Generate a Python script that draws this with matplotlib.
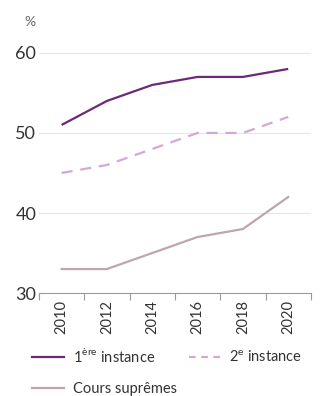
import matplotlib
matplotlib.use('Agg')
import matplotlib.pyplot as plt
from matplotlib.lines import Line2D

plt.rcParams['font.family'] = ['Lato', 'DejaVu Sans']
plt.rcParams['mathtext.fontset'] = 'custom'
plt.rcParams['mathtext.rm'] = 'Lato'

years = ['2010', '2012', '2014', '2016', '2018', '2020']
premiere = [51, 54, 56, 57, 57, 58]
deuxieme = [45, 46, 48, 50, 50, 52]
supremes = [33, 33, 35, 37, 38, 42]

c1 = '#6b2a78'
c2 = '#d5a8d0'
c3 = '#bea6aa'
text_col = '#333333'
axis_col = '#9a9a9a'

fig = plt.figure(figsize=(3.3, 3.96), dpi=100)
ax = fig.add_axes([0.118, 0.26, 0.824, 0.667])

x = list(range(len(years)))
ax.plot(x, premiere, color=c1, lw=1.6, solid_capstyle='butt')
ax.plot(x, deuxieme, color=c2, lw=1.6, dashes=(5, 3.5))
ax.plot(x, supremes, color=c3, lw=1.6)

ax.set_xlim(-0.5, 5.5)
ax.set_ylim(30, 63)
ax.set_yticks([30, 40, 50, 60])
ax.set_yticklabels(['30', '40', '50', '60'], fontsize=13, color=text_col)
ax.tick_params(axis='y', length=0, pad=2)
for y in [40, 50, 60]:
    ax.axhline(y, color='#e6e6e6', lw=0.8, zorder=0)

ax.set_xticks(x)
ax.set_xticklabels(years, rotation=90, fontsize=10.5, color=text_col)
ax.set_xticks([i - 0.5 for i in range(len(years) + 1)], minor=True)
ax.tick_params(axis='x', which='major', length=0, pad=5)
ax.tick_params(axis='x', which='minor', length=5, width=0.8, color=axis_col)

for s in ['top', 'right', 'left']:
    ax.spines[s].set_visible(False)
ax.spines['bottom'].set_color(axis_col)
ax.spines['bottom'].set_linewidth(0.8)

fig.text(0.075, 0.935, '%', fontsize=10, color='#666666')

# column-wise fill: first column gets 1ère + Cours, second gets 2e
handles = [
    Line2D([], [], color=c1, lw=1.6),
    Line2D([], [], color=c3, lw=1.6),
    Line2D([], [], color=c2, lw=1.6, dashes=(3, 2.5)),
]
labels = ['1$^{\\mathrm{ère}}$ instance', 'Cours suprêmes', '2$^{\\mathrm{e}}$ instance']
fig.legend(handles, labels, loc='upper left', bbox_to_anchor=(0.097, 0.124),
           ncol=2, frameon=False, fontsize=10.5, labelcolor=text_col,
           handlelength=2.2, handletextpad=0.6, columnspacing=0.8,
           labelspacing=1.15, borderpad=0, borderaxespad=0)

fig.savefig('out.png', dpi=100)
